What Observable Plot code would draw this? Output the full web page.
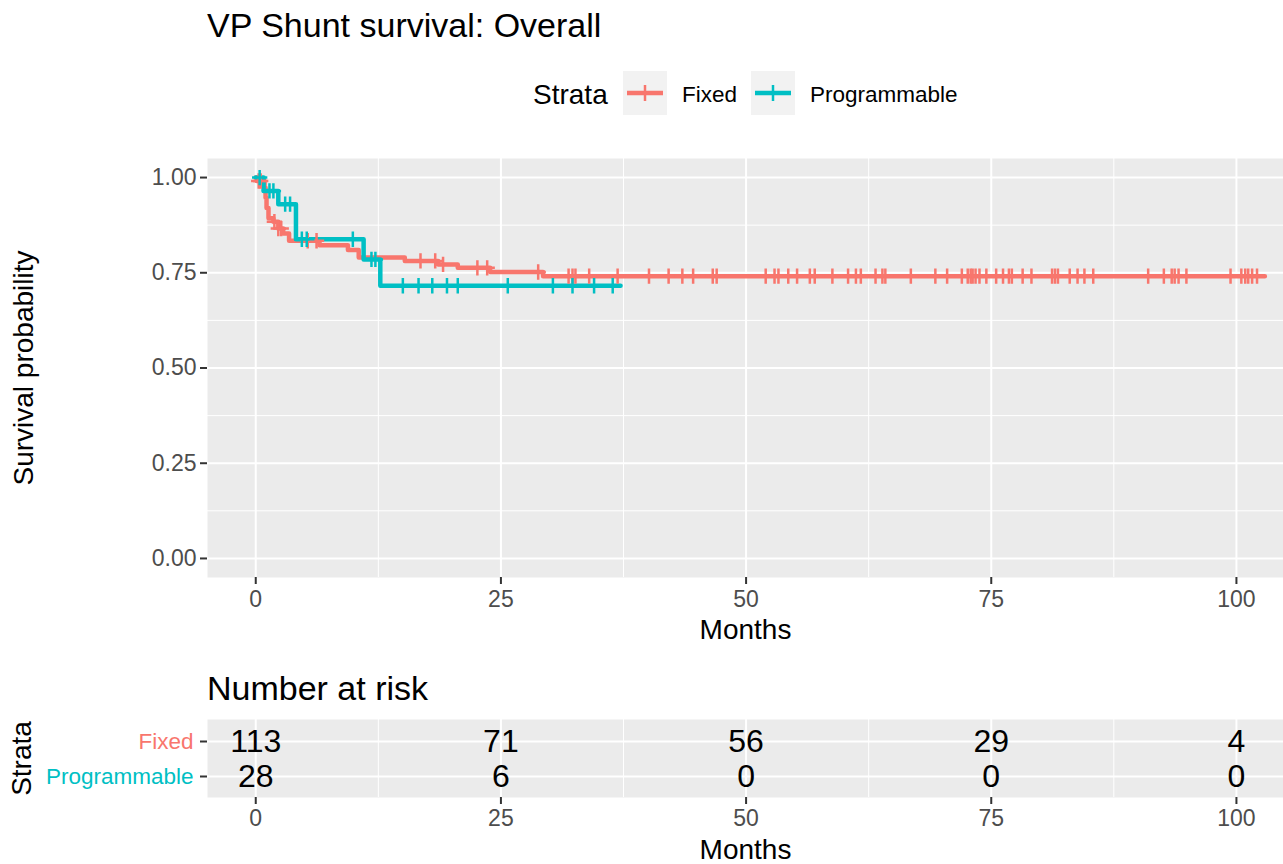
<!DOCTYPE html>
<html><head><meta charset="utf-8">
<script src="https://cdn.jsdelivr.net/npm/d3@7"></script>
<script src="https://cdn.jsdelivr.net/npm/@observablehq/plot@0.6"></script>
<style>
body{margin:0;background:#fff;font-family:"Liberation Sans",Arial,sans-serif;}
#wrap{position:relative;width:1283px;height:864px;overflow:hidden;background:#fff;}
.abs{position:absolute;white-space:nowrap;line-height:1;color:#000;}
.key{position:absolute;width:44px;height:44px;background:#f2f2f2;}
</style></head><body><div id="wrap">
<div class="abs" style="left:207px;top:8px;font-size:34px;">VP Shunt survival: Overall</div>
<div class="abs" style="left:533px;top:81px;font-size:28px;">Strata</div>
<div class="key" style="left:623px;top:71px;"><svg width="44" height="44"><line x1="4" x2="40" y1="22" y2="22" stroke="#F8766D" stroke-width="4.5"/><line x1="22" x2="22" y1="14" y2="30" stroke="#F8766D" stroke-width="2.5"/></svg></div>
<div class="abs" style="left:682px;top:84px;font-size:22.5px;">Fixed</div>
<div class="key" style="left:751px;top:71px;"><svg width="44" height="44"><line x1="4" x2="40" y1="22" y2="22" stroke="#00BFC4" stroke-width="4.5"/><line x1="22" x2="22" y1="14" y2="30" stroke="#00BFC4" stroke-width="2.5"/></svg></div>
<div class="abs" style="left:810px;top:84px;font-size:22.5px;">Programmable</div>
<div id="main" class="abs" style="left:0;top:140px"></div>
<div class="abs" style="left:207px;top:671px;font-size:34px;">Number at risk</div>
<div id="risk" class="abs" style="left:0;top:705px"></div>
</div>
<script>
const strata = ["Fixed", "Programmable"];
const colors = ["#F8766D", "#00BFC4"];

const fixedTime = [0, 0.1, 0.9, 1.0, 1.1, 1.3, 1.8, 2.3, 2.8, 3.4, 6.5, 9.4, 10.5, 15.2, 18.6, 20.6, 23.9, 29.3, 102.9];
const fixedSurv = [1.0, 0.991, 0.973, 0.947, 0.920, 0.893, 0.884, 0.866, 0.853, 0.834, 0.822, 0.810, 0.790, 0.781, 0.772, 0.763, 0.752, 0.741, 0.741];

const progTime = [0, 0.8, 2.3, 4.1, 11.0, 12.7, 37.2];
const progSurv = [1.0, 0.965, 0.930, 0.838, 0.785, 0.716, 0.716];

const fixedCensor = [0.3, 0.5, 1.9, 2.3, 2.6, 5.3, 6.2, 16.8, 18.3, 19.1, 22.6, 23.6, 28.8, 31.9, 32.3, 32.6, 34.0, 36.9,
  40.1, 42.1, 43.5, 44.6, 46.6, 47.0, 52.0, 52.9, 53.3, 54.3, 55.2, 56.5, 57.0, 58.8, 60.4, 61.2, 61.7, 63.2, 63.9, 64.2,
  66.8, 69.3, 70.5, 72.0, 72.6, 72.9, 73.1, 73.4, 73.8, 74.5, 75.5, 76.2, 76.8, 77.1, 78.2, 79.1, 81.2, 81.5, 81.8, 83.0,
  83.8, 84.5, 85.4, 91.0, 92.6, 93.4, 93.7, 94.1, 94.9, 99.4, 100.5, 100.9, 101.2, 101.6, 102.1];
const progCensor = [0.4, 1.4, 1.8, 3.0, 3.5, 4.7, 5.2, 9.9, 11.8, 12.2, 15.0, 16.6, 18.0, 19.5, 20.6, 25.7, 30.3, 32.3, 34.5, 36.4];

const riskTimes = [0, 25, 50, 75, 100];
const fixedRisk = [113, 71, 56, 29, 4];
const progRisk = [28, 6, 0, 0, 0];

const xTicks = [0, 25, 50, 75, 100];
const xMinor = [12.5, 37.5, 62.5, 87.5];
const yTicks = [0, 0.25, 0.5, 0.75, 1];
const yMinor = [0.125, 0.375, 0.625, 0.875];

function steps(name, times, surv) {
  return times.map((t, i) => ({strata: name, time: t, surv: surv[i]}));
}
function censorPts(name, ct, times, surv) {
  return ct.map(t => {
    let s = surv[0];
    for (let i = 0; i < times.length; i++) if (times[i] <= t) s = surv[i];
    return {strata: name, time: t, surv: s};
  });
}
const curveData = [...steps(strata[0], fixedTime, fixedSurv), ...steps(strata[1], progTime, progSurv)];
const censorData = [...censorPts(strata[0], fixedCensor, fixedTime, fixedSurv), ...censorPts(strata[1], progCensor, progTime, progSurv)];
const riskData = [
  ...riskTimes.map((t, i) => ({strata: strata[0], time: t, n: fixedRisk[i]})),
  ...riskTimes.map((t, i) => ({strata: strata[1], time: t, n: progRisk[i]}))
];

const font = "'Liberation Sans', Arial, sans-serif";
const xDomain = [-4.92, 104.8];

const main = Plot.plot({
  width: 1283, height: 520, marginLeft: 207, marginRight: 0, marginTop: 18, marginBottom: 83,
  x: {domain: xDomain}, y: {domain: [-0.05, 1.05]},
  color: {domain: strata, range: colors},
  style: {background: "transparent", fontFamily: font, overflow: "visible"},
  marks: [
    Plot.frame({fill: "#ebebeb", stroke: "none"}),
    Plot.ruleX(xMinor, {stroke: "white", strokeWidth: 1}),
    Plot.ruleY(yMinor, {stroke: "white", strokeWidth: 1}),
    Plot.ruleX(xTicks, {stroke: "white", strokeWidth: 2}),
    Plot.ruleY(yTicks, {stroke: "white", strokeWidth: 2}),
    Plot.line(curveData, {x: "time", y: "surv", stroke: "strata", curve: "step-after", strokeWidth: 4.5}),
    Plot.dot(censorData, {x: "time", y: "surv", stroke: "strata", symbol: "plus", r: 5, strokeWidth: 2.5}),
    Plot.axisX(xTicks, {tickSize: 7, tickPadding: 6, fontSize: 23, stroke: "#333", fill: "#4d4d4d", strokeWidth: 2, label: null}),
    Plot.axisY(yTicks, {tickSize: 7, tickPadding: 4, fontSize: 23, stroke: "#333", fill: "#4d4d4d", strokeWidth: 2, tickFormat: d3.format(".2f"), label: null}),
    Plot.text(["Months"], {frameAnchor: "bottom", dy: 53, lineAnchor: "middle", textAnchor: "middle", fontSize: 28, fill: "black"}),
    Plot.text(["Survival probability"], {frameAnchor: "left", dx: -183, rotate: -90, lineAnchor: "middle", textAnchor: "middle", fontSize: 28, fill: "black"})
  ]
});
document.getElementById("main").appendChild(main);

const risk = Plot.plot({
  width: 1283, height: 159, marginLeft: 207, marginRight: 0, marginTop: 14, marginBottom: 67,
  x: {domain: xDomain}, y: {type: "point", domain: strata, padding: 0.59},
  color: {domain: strata, range: colors},
  style: {background: "transparent", fontFamily: font, overflow: "visible"},
  marks: [
    Plot.frame({fill: "#ebebeb", stroke: "none"}),
    Plot.ruleX(xMinor, {stroke: "white", strokeWidth: 1}),
    Plot.ruleX(xTicks, {stroke: "white", strokeWidth: 2}),
    Plot.ruleY(strata, {stroke: "white", strokeWidth: 2}),
    Plot.text(riskData, {x: "time", y: "strata", text: "n", fontSize: 32, fill: "black"}),
    Plot.axisX(xTicks, {tickSize: 7, tickPadding: 5, fontSize: 23, stroke: "#333", fill: "#4d4d4d", strokeWidth: 2, label: null}),
    Plot.axisY(strata, {tickSize: 7, tickFormat: () => "", stroke: "#333", strokeWidth: 2, label: null}),
    Plot.text(strata, {y: d => d, frameAnchor: "left", dx: -14, textAnchor: "end", fill: d => d, fontSize: 22.5}),
    Plot.text(["Months"], {frameAnchor: "bottom", dy: 53, lineAnchor: "middle", textAnchor: "middle", fontSize: 28, fill: "black"}),
    Plot.text(["Strata"], {frameAnchor: "left", dx: -185, rotate: -90, lineAnchor: "middle", textAnchor: "middle", fontSize: 28, fill: "black"})
  ]
});
document.getElementById("risk").appendChild(risk);
</script>
</body></html>
